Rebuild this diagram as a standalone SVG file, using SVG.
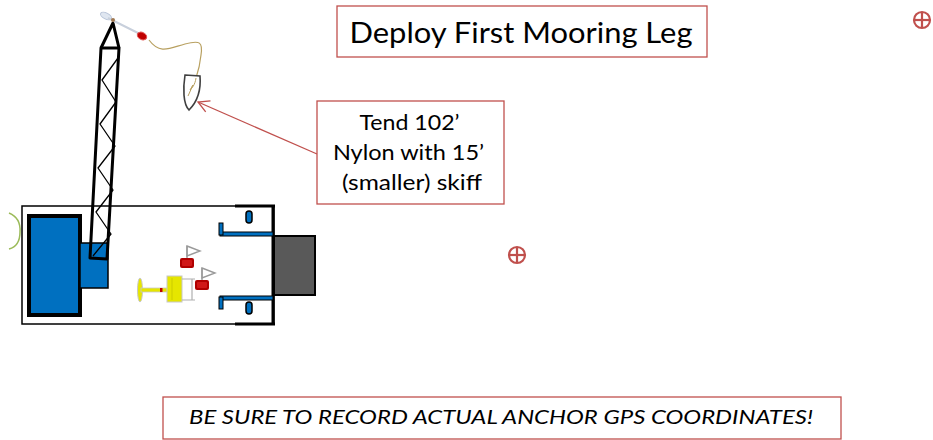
<svg xmlns="http://www.w3.org/2000/svg" width="933" height="440" viewBox="0 0 933 440">
  <style>
    .label { font-family: Lato, "Open Sans", "Liberation Sans", sans-serif; fill: #000; }
    .box { fill: #fff; stroke: #C0504D; stroke-width: 1.3; }
    .target { fill: none; stroke: #C0504D; stroke-width: 2.2; }
    .blue { fill: #0070C0; }
  </style>
  <defs>
    <marker id="openArrow" markerWidth="14" markerHeight="14" refX="12" refY="7" orient="auto" markerUnits="userSpaceOnUse">
      <path d="M1,1 L12,7 L1,13" fill="none" stroke="#C0504D" stroke-width="1.3"/>
    </marker>
    <g id="shackle">
      <path d="M5,-12 L18,-7 L5,-2 Z" fill="#fff" stroke="#9a9a9a" stroke-width="1.4"/>
      <line x1="5" y1="-12" x2="5" y2="0" stroke="#9a9a9a" stroke-width="1.4"/>
      <rect x="-2" y="0" width="14" height="10" rx="2" fill="#B00000"/>
      <rect x="0" y="2" width="10" height="6" rx="1" fill="#D01818"/>
    </g>
    <g id="pin">
      <rect x="-3" y="-6" width="6" height="12" rx="3" fill="#0070C0" stroke="#000" stroke-width="1.5"/>
    </g>
  </defs>

  <!-- connector: callout pointing at skiff -->
  <g id="connectors">
    <line x1="317" y1="154" x2="198" y2="102" stroke="#C0504D" stroke-width="1.3" marker-end="url(#openArrow)"/>
  </g>

  <!-- title -->
  <g id="title">
    <rect class="box" x="337" y="6" width="370" height="51"/>
    <text class="label" x="521" y="43" font-size="29" text-anchor="middle" textLength="343" lengthAdjust="spacingAndGlyphs">Deploy First Mooring Leg</text>
  </g>

  <!-- callout -->
  <g id="callout">
    <rect class="box" x="317" y="101" width="187" height="103"/>
    <text class="label" font-size="20.5" text-anchor="middle">
      <tspan x="412" y="130" textLength="100" lengthAdjust="spacingAndGlyphs">Tend 102’</tspan>
      <tspan x="411" y="160" textLength="151" lengthAdjust="spacingAndGlyphs">Nylon with 15’</tspan>
      <tspan x="412" y="190" textLength="140" lengthAdjust="spacingAndGlyphs">(smaller) skiff</tspan>
    </text>
  </g>

  <!-- reminder -->
  <g id="reminder">
    <rect class="box" x="163" y="397" width="678" height="42"/>
    <text class="label" x="501" y="424" font-size="19.5" font-style="italic" text-anchor="middle" textLength="624" lengthAdjust="spacingAndGlyphs">BE SURE TO RECORD ACTUAL ANCHOR GPS COORDINATES!</text>
  </g>

  <!-- anchor targets -->
  <g id="target-1">
    <circle class="target" cx="517" cy="255" r="8"/>
    <line class="target" x1="509" y1="255" x2="525" y2="255"/>
    <line class="target" x1="517" y1="247" x2="517" y2="263"/>
  </g>
  <g id="target-2">
    <circle class="target" cx="922" cy="20" r="8"/>
    <line class="target" x1="914" y1="20" x2="930" y2="20"/>
    <line class="target" x1="922" y1="12" x2="922" y2="28"/>
  </g>

  <!-- vessel deck -->
  <g id="vessel">
    <!-- fender -->
    <path d="M9,213 Q21,218 20,232 Q20,246 9,249" fill="none" stroke="#9BBB59" stroke-width="1.5"/>
    <!-- hull outline -->
    <rect x="22" y="206" width="252" height="118" fill="#fff" stroke="#000" stroke-width="1.5"/>
    <line x1="235" y1="206" x2="275" y2="206" stroke="#000" stroke-width="3"/>
    <line x1="235" y1="324" x2="275" y2="324" stroke="#000" stroke-width="3"/>
    <line x1="273" y1="205" x2="273" y2="325" stroke="#000" stroke-width="3"/>
    <!-- deckhouse -->
    <rect class="blue" x="29" y="216" width="51" height="99" stroke="#000" stroke-width="4"/>
    <rect class="blue" x="80" y="243" width="28" height="45" stroke="#000" stroke-width="1.5"/>
    <!-- stern ramp -->
    <rect x="274" y="236" width="41" height="59" fill="#595959" stroke="#000" stroke-width="2"/>
    <!-- stern brackets -->
    <rect x="220" y="232" width="53" height="4" fill="#0070C0" stroke="#000" stroke-width="1"/>
    <rect x="220" y="296" width="53" height="4" fill="#0070C0" stroke="#000" stroke-width="1"/>
    <rect x="219" y="223" width="4" height="12" fill="#0070C0" stroke="#000" stroke-width="1"/>
    <rect x="219" y="297" width="4" height="12" fill="#0070C0" stroke="#000" stroke-width="1"/>
    <use href="#pin" x="249" y="217"/>
    <use href="#pin" x="249" y="308"/>
  </g>

  <!-- winch -->
  <g id="winch">
    <ellipse cx="140" cy="290" rx="2.5" ry="12" fill="#E6E600" stroke="#c8c8c8" stroke-width="1"/>
    <rect x="141" y="288" width="27" height="4" fill="#E6E600" stroke="#c8c8c8" stroke-width="0.8"/>
    <rect x="160" y="288" width="2.5" height="4" fill="#C00000"/>
    <rect x="167" y="276" width="15" height="26" fill="#E6E600" stroke="#c8c8c8" stroke-width="1"/>
    <line x1="172" y1="278" x2="172" y2="300" stroke="#cccc00" stroke-width="1"/>
    <path d="M182,279 L195,279 M182,300 L195,300 M192,279 L192,300" fill="none" stroke="#b0b0b0" stroke-width="1.2"/>
  </g>

  <!-- shackles on deck -->
  <g id="shackle-1"><use href="#shackle" x="182" y="258"/></g>
  <g id="shackle-2"><use href="#shackle" x="197" y="280"/></g>

  <!-- crane -->
  <g id="crane" fill="none" stroke="#000" stroke-linejoin="round">
    <path d="M90,258 L101,48 L119,48 L107,259 Z" stroke-width="3"/>
    <path d="M101,48 L113,23 L119,48" stroke-width="3"/>
    <path d="M118,58 L102,80 L116,102 L100,124 L115,146 L98,168 L113,190 L96,212 L111,234 L93,256" stroke-width="1.3"/>
  </g>

  <!-- boom tip gear and line to skiff -->
  <g id="tag-line">
    <ellipse cx="106" cy="16" rx="6" ry="3" transform="rotate(28 106 16)" fill="#dfe6f0" stroke="#b8c4d8" stroke-width="1"/>
    <line x1="108" y1="18" x2="140" y2="34" stroke="#c8d0dc" stroke-width="2"/>
    <circle cx="113" cy="20" r="2" fill="#a07850"/>
    <path d="M149,40 C160,55 170,48 185,44 C200,40 203,42 201,55 C200,65 198,72 196,78" fill="none" stroke="#B8A060" stroke-width="1.2"/>
    <ellipse cx="142" cy="36" rx="5" ry="3.5" transform="rotate(28 142 36)" fill="#C00000" stroke="#e05050" stroke-width="1"/>
  </g>

  <!-- skiff -->
  <g id="skiff">
    <path d="M185,75 L200,76 C201,88 198,101 189,110 C183,104 183,88 185,75 Z" fill="#fff" stroke="#404040" stroke-width="1.6"/>
    <path d="M196,78 C195,85 192,88 190,90 L193,85 L188,96" fill="none" stroke="#B8A060" stroke-width="1"/>
  </g>
</svg>
